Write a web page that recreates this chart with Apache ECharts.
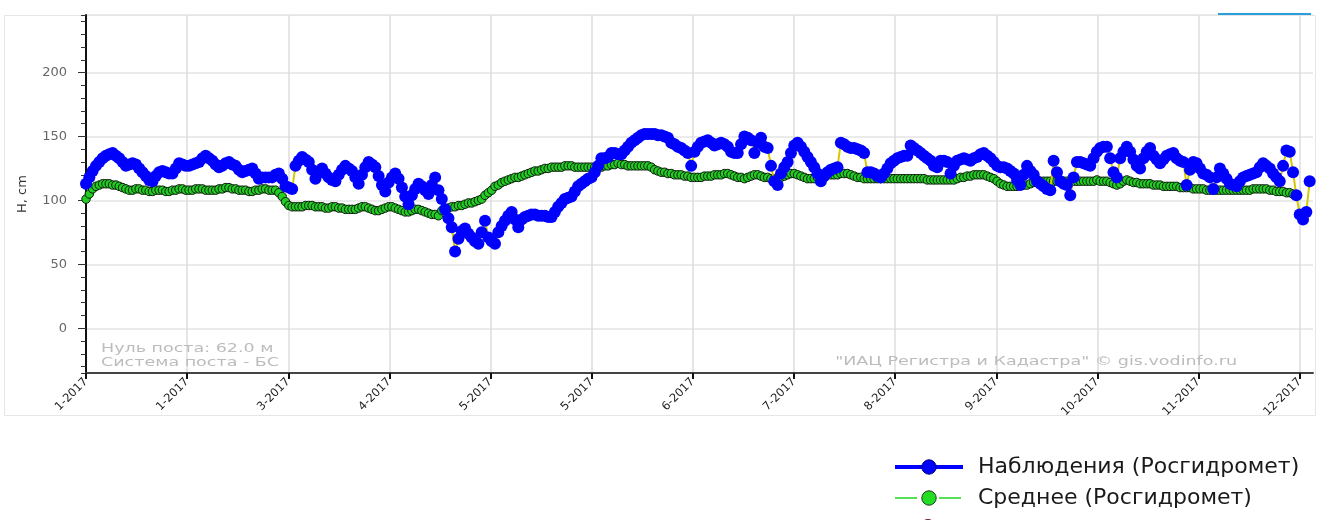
<!DOCTYPE html>
<html>
<head>
<meta charset="utf-8">
<script src="https://cdn.jsdelivr.net/npm/echarts@6/dist/echarts.min.js"></script>
<style>
  html, body { margin: 0; padding: 0; background: #fff; }
  #chart { width: 1321px; height: 520px; }
</style>
</head>
<body>
<div id="chart"></div>
<script>
// Month tick labels along the time axis (one every 365/12 days)
const monthLabels = ['1-2017', '1-2017', '3-2017', '4-2017', '5-2017', '5-2017', '6-2017',
  '7-2017', '8-2017', '9-2017', '10-2017', '11-2017', '12-2017'];

const obsName = 'Наблюдения (Росгидромет)';
const avgName = 'Среднее (Росгидромет)';

// Daily observed water level H, cm (day 0 = 1 Jan 2017)
const observed = [
  113, 118, 123, 127, 130, 133, 135, 136, 137, 135,
  133, 130, 127, 128, 129, 128, 125, 122, 119, 116,
  115, 119, 122, 123, 122, 121, 121, 125, 129, 128,
  127, 127, 128, 129, 130, 133, 135, 133, 131, 128,
  126, 127, 129, 130, 128, 127, 124, 122, 123, 124,
  125, 121, 117, 118, 118, 118, 118, 120, 121, 117,
  111, 110, 109, 127, 131, 134, 132, 130, 124, 117,
  122, 125, 121, 118, 116, 115, 120, 124, 127, 125,
  123, 118, 113, 120, 126, 130, 128, 126, 119, 112,
  107, 114, 118, 121, 117, 110, 103, 97, 104, 109,
  113, 111, 108, 105, 112, 118, 108, 101, 93, 86,
  79, 60, 70, 76, 78, 74, 71, 68, 66, 75,
  84, 71, 68, 66, 75, 80, 84, 88, 91, 85,
  79, 85, 87, 88, 89, 89, 88, 88, 88, 87,
  87, 91, 95, 98, 101, 102, 103, 107, 111, 113,
  115, 117, 118, 122, 127, 133, 133, 134, 137, 137,
  136, 136, 139, 142, 145, 147, 149, 151, 152, 152,
  152, 152, 151, 151, 150, 149, 145, 144, 142, 141,
  139, 137, 127, 138, 142, 145, 146, 147, 145, 143,
  144, 145, 144, 142, 138, 137, 137, 144, 150, 149,
  147, 137, 145, 149, 142, 141, 127, 115, 112, 121,
  126, 130, 137, 143, 145, 142, 138, 134, 130, 126,
  121, 115, 119, 122, 124, 125, 126, 145, 144, 142,
  141, 141, 140, 139, 137, 122, 122, 121, 119, 118,
  121, 125, 129, 131, 133, 134, 135, 135, 143, 141,
  139, 137, 135, 133, 131, 127, 126, 131, 131, 130,
  121, 127, 131, 132, 133, 132, 131, 133, 134, 136,
  137, 135, 133, 130, 127, 126, 126, 125, 123, 121,
  116, 112, 120, 127, 123, 120, 115, 113, 111, 109,
  108, 131, 122, 115, 113, 112, 104, 118, 130, 130,
  129, 128, 127, 133, 138, 141, 142, 142, 133, 122,
  118, 133, 138, 142, 138, 132, 127, 125, 133, 138,
  141, 135, 132, 129, 132, 135, 136, 137, 133, 131,
  130, 112, 124, 130, 129, 125, 121, 120, 118, 109,
  118, 125, 121, 117, 113, 112, 111, 115, 118, 119,
  120, 121, 122, 126, 129, 127, 125, 121, 118, 115,
  127, 139, 138, 122, 104, 89, 85, 91, 115
];

// Daily long-term average level H, cm
const average = [
  101, 105, 109, 111, 112, 113, 113, 113, 112, 112,
  111, 110, 109, 108, 108, 109, 109, 108, 108, 107,
  107, 108, 108, 108, 107, 107, 108, 108, 109, 109,
  108, 108, 108, 109, 109, 109, 108, 108, 108, 108,
  109, 109, 110, 110, 109, 109, 108, 108, 108, 107,
  107, 108, 108, 109, 109, 108, 108, 108, 106, 103,
  99, 96, 95, 95, 95, 95, 96, 96, 96, 95,
  95, 95, 94, 94, 95, 95, 94, 94, 93, 93,
  93, 93, 94, 95, 95, 94, 93, 92, 92, 93,
  94, 95, 95, 94, 93, 92, 91, 91, 92, 93,
  93, 92, 91, 90, 89, 89, 88, 92, 93, 94,
  95, 95, 96, 96, 97, 98, 98, 99, 100, 101,
  104, 106, 108, 111, 112, 114, 115, 116, 117, 118,
  118, 119, 120, 121, 122, 123, 123, 124, 125, 125,
  126, 126, 126, 126, 127, 127, 127, 126, 126, 126,
  126, 126, 126, 126, 126, 126, 127, 127, 128, 128,
  129, 128, 128, 127, 127, 127, 127, 127, 127, 127,
  126, 124, 123, 122, 122, 121, 121, 120, 120, 120,
  119, 119, 118, 118, 118, 118, 119, 119, 119, 120,
  120, 120, 121, 121, 120, 119, 118, 118, 117, 118,
  119, 120, 120, 119, 118, 118, 117, 117, 117, 118,
  119, 120, 121, 121, 120, 119, 118, 117, 117, 117,
  118, 119, 119, 120, 120, 120, 120, 121, 121, 121,
  120, 119, 118, 118, 117, 117, 117, 117, 117, 117,
  117, 117, 117, 117, 117, 117, 117, 117, 117, 117,
  117, 117, 117, 116, 116, 116, 116, 116, 116, 116,
  116, 116, 117, 118, 118, 119, 119, 120, 120, 120,
  120, 119, 118, 117, 115, 113, 112, 111, 111, 111,
  111, 112, 112, 112, 113, 114, 114, 115, 115, 115,
  115, 115, 115, 115, 115, 115, 115, 115, 115, 115,
  115, 115, 115, 115, 116, 115, 115, 115, 114, 113,
  112, 113, 115, 116, 115, 114, 114, 113, 113, 113,
  113, 112, 112, 112, 111, 111, 111, 111, 111, 110,
  110, 110, 110, 109, 109, 109, 109, 108, 108, 108,
  108, 108, 108, 108, 108, 108, 108, 108, 108, 108,
  108, 109, 109, 109, 109, 109, 108, 108, 107, 107,
  107, 106, 106, 105, 104
];

const DAYS_PER_TICK = 365 / 12;
const tickDays = monthLabels.map((_, i) => i * DAYS_PER_TICK);
const FONT = 'DejaVu Sans';

const chart = echarts.init(document.getElementById('chart'), null, { renderer: 'canvas' });

chart.setOption({
  animation: false,
  backgroundColor: '#ffffff',
  textStyle: { fontFamily: FONT },
  grid: { left: 86, top: 15, width: 1227, height: 358, containLabel: false },
  xAxis: {
    type: 'value',
    min: 0,
    max: 369,
    interval: DAYS_PER_TICK,
    axisLine: { show: true, onZero: false, lineStyle: { color: '#444', width: 2 } },
    axisTick: { show: true, customValues: tickDays, length: 6, lineStyle: { color: '#111', width: 2 } },
    axisLabel: {
      customValues: tickDays,
      rotate: 45, margin: 7, fontSize: 11.5, color: '#222', fontFamily: FONT,
      formatter: function (v) {
        const k = Math.round(v / DAYS_PER_TICK);
        return (Math.abs(k * DAYS_PER_TICK - v) < 0.01 && k < monthLabels.length) ? monthLabels[k] : '';
      }
    },
    splitLine: { show: true, lineStyle: { color: '#dcdcdc', width: 1.5 } }
  },
  yAxis: [
    {
      type: 'value', position: 'left',
      min: -35, max: 245, minInterval: 50, maxInterval: 50,
      name: 'H, cm', nameLocation: 'middle', nameGap: 57, nameRotate: 90,
      nameTextStyle: { fontSize: 13, color: '#333', fontFamily: FONT },
      axisLine: { show: true, lineStyle: { color: '#111', width: 2 } },
      axisTick: { show: true, length: 8, lineStyle: { color: '#333', width: 1 } },
      axisLabel: { showMinLabel: false, showMaxLabel: false, fontSize: 13, color: '#666', margin: 19, fontFamily: FONT },
      splitLine: { show: true, lineStyle: { color: '#e4e4e4', width: 1.5 } }
    },
    {
      // minor ticks every 10 cm
      type: 'value', position: 'left',
      min: -35, max: 245, minInterval: 10, maxInterval: 10,
      axisLine: { show: false },
      axisTick: { show: true, length: 5, lineStyle: { color: '#333', width: 1 } },
      axisLabel: { show: false },
      splitLine: { show: false }
    }
  ],
  legend: {
    orient: 'vertical', left: 893, top: 456, padding: 0,
    itemWidth: 68, itemHeight: 18, itemGap: 9,
    selectedMode: false,
    textStyle: { fontFamily: FONT, fontSize: 22, color: '#1a1a1a', padding: [0, 0, 0, 10] },
    data: [
      { name: obsName, itemStyle: { color: '#0000ff', borderColor: '#000080', borderWidth: 1 },
        lineStyle: { color: '#0000ff', width: 4, type: 'solid' } },
      { name: avgName, itemStyle: { color: '#22dd22', borderColor: '#1d3a1d', borderWidth: 1 },
        lineStyle: { color: '#55e055', width: 2, type: [22, 22] } }
    ]
  },
  series: [
    {
      name: avgName, type: 'line', z: 2,
      data: average.map((v, i) => [i, v]),
      showAllSymbol: true, symbol: 'circle', symbolSize: 8.5,
      itemStyle: { color: '#22cc22', borderColor: '#0d1a0d', borderWidth: 1 },
      lineStyle: { color: '#44dd44', width: 2, type: 'dashed' },
      silent: true
    },
    {
      name: obsName, type: 'line', z: 3,
      data: observed.map((v, i) => [i, v]),
      showAllSymbol: true, symbol: 'circle', symbolSize: 12,
      itemStyle: { color: '#0000ff', borderWidth: 0 },
      lineStyle: { color: '#d6c800', width: 2 },
      silent: true
    }
  ],
  graphic: [
    { type: 'rect', z: -10, silent: true,
      shape: { x: 4.5, y: 15.5, width: 1311, height: 400 },
      style: { fill: 'none', stroke: '#e6e6e6', lineWidth: 1 } },
    { type: 'rect', z: 10, silent: true,
      shape: { x: 1218, y: 13, width: 93, height: 2 },
      style: { fill: '#2a9fdc' } },
    { type: 'text', z: 1, silent: true, x: 101, y: 342, scaleX: 1.4,
      style: { text: 'Нуль поста: 62.0 м\nСистема поста - БС', fill: '#bcbcbc',
        font: '12.5px "DejaVu Sans"', lineHeight: 14 } },
    { type: 'text', z: 1, silent: true, x: 1237, y: 355, scaleX: 1.4,
      style: { text: '"ИАЦ Регистра и Кадастра" © gis.vodinfo.ru', fill: '#bcbcbc',
        align: 'right', font: '12.5px "DejaVu Sans"' } },
    { type: 'circle', z: 10, silent: true,
      shape: { cx: 928, cy: 527, r: 7.5 },
      style: { fill: '#9a3b2b', stroke: '#5a2018', lineWidth: 1 } }
  ]
});
</script>
</body>
</html>
